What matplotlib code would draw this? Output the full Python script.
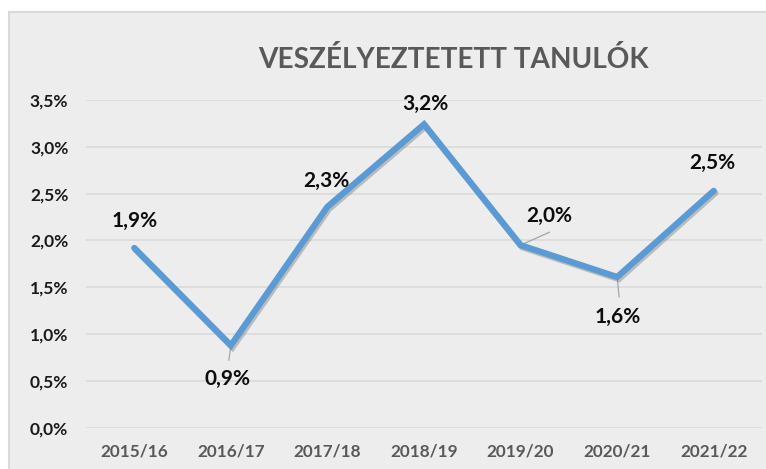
import matplotlib
matplotlib.use("Agg")
import matplotlib.pyplot as plt
import matplotlib.patheffects as pe
from matplotlib.patches import Rectangle
from matplotlib.ticker import FuncFormatter

# data
years = ["2015/16", "2016/17", "2017/18", "2018/19", "2019/20", "2020/21", "2021/22"]
values = [1.92, 0.88, 2.36, 3.24, 1.95, 1.61, 2.53]
labels = ["1,9%", "0,9%", "2,3%", "3,2%", "2,0%", "1,6%", "2,5%"]

# label placement (pixels from the point, to the text baseline)
label_offsets = [(0, 21), (-3, -40), (-1, 20), (1, 14), (29, 23), (1, -46), (-1, 22)]
# leader lines (end point in pixels from the data point)
leaders = {1: (-2, -15), 4: (29, 13), 5: (2, -20)}

plt.rcParams['font.family'] = ['Lato', 'DejaVu Sans']

fig = plt.figure(figsize=(7.66, 4.69), dpi=100)
fig.patch.set_facecolor("white")

# grey chart area with thin border
bg = Rectangle((8.5 / 766, -0.02), 1.0, 1 - 12.5 / 469 + 0.02,
               transform=fig.transFigure, facecolor="#EDEDED",
               edgecolor="#D9D9D9", lw=1.5, zorder=-5)
fig.patches.append(bg)

ax = fig.add_axes([86 / 766, 1 - 427.8 / 469, 676 / 766, (427.8 - 100) / 469])
ax.set_facecolor("none")

x = list(range(len(years)))
ax.plot(x, values, color="#5B9BD5", lw=4.5, solid_capstyle="round",
        solid_joinstyle="miter", zorder=3,
        path_effects=[pe.SimpleLineShadow(offset=(1.2, -1.5), shadow_color="#7f7f7f", alpha=0.45),
                      pe.Normal()])

for i, (lab, (dx, dy)) in enumerate(zip(labels, label_offsets)):
    ax.annotate(lab, xy=(x[i], values[i]), xytext=(dx, dy), textcoords="offset pixels",
                ha="center", va="baseline", fontsize=15, fontweight="bold",
                color="#0d0d0d", zorder=5)

for i, (lx, ly) in leaders.items():
    ax.annotate("", xy=(x[i], values[i]), xytext=(lx, ly), textcoords="offset pixels",
                arrowprops=dict(arrowstyle="-", color="#A6A6A6", lw=0.9,
                                shrinkA=0, shrinkB=0), zorder=2)

ax.set_xlim(-0.5, len(years) - 0.5)
ax.set_ylim(0, 3.5)
ax.set_yticks([0, 0.5, 1.0, 1.5, 2.0, 2.5, 3.0, 3.5])
ax.yaxis.set_major_formatter(FuncFormatter(lambda v, p: f"{v:.1f}%".replace(".", ",")))
ax.set_xticks(x)
ax.set_xticklabels(years)

ax.grid(axis="y", color="#D9D9D9", lw=1.1, zorder=1)
ax.set_axisbelow(True)
for s in ax.spines.values():
    s.set_visible(False)

ax.tick_params(axis="y", length=0, pad=12.7, labelsize=12.5)
ax.tick_params(axis="x", length=0, pad=11.5, labelsize=12.3, labelcolor="#595959")
for t in ax.get_yticklabels():
    t.set_fontweight("bold")
    t.set_color("#1a1a1a")
for t in ax.get_xticklabels():
    t.set_fontweight("bold")

fig.text(453 / 766, 1 - 68.3 / 469, "VESZÉLYEZTETETT TANULÓK", ha="center", va="baseline",
         fontsize=20.2, fontweight="bold", color="#595959")

fig.savefig("out.png", dpi=100)
